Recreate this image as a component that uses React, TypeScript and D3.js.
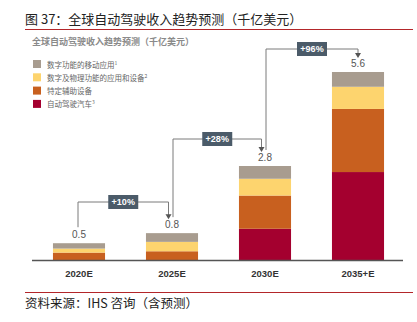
import React from "react";
import * as d3 from "d3";

const categories = ["2020E", "2025E", "2030E", "2035+E"];
const totals = [0.5, 0.8, 2.8, 5.6];
const totalLabels = ["0.5", "0.8", "2.8", "5.6"];
const redVals = [0, 0, 0.93, 2.62];
const orangeVals = [0.22, 0.26, 0.99, 1.88];
const yellowVals = [0.12, 0.28, 0.5, 0.66];
const grayVals = [0.16, 0.26, 0.38, 0.44];
const growthLabels = ["+10%", "+28%", "+96%"];
const legendLabels = ["数字功能的移动应用", "数字及物理功能的应用和设备", "特定辅助设备", "自动驾驶汽车"];
const legendSup = ["1", "2", "", "3"];

const keys = ["red", "orange", "yellow", "gray"];
const colors: Record<string, string> = {
  red: "#a4002f",
  orange: "#c8601f",
  yellow: "#fdd46e",
  gray: "#a89c8f",
};
const legendKeys = ["gray", "yellow", "orange", "red"];

const CJK = "'Noto Sans CJK SC', 'Noto Sans', sans-serif";
const LAT = "'Liberation Sans', Arial, sans-serif";

export default function App() {
  const W = 417, H = 322;
  const x = d3.scaleBand<string>().domain(categories).range([32.5, 404.5]).paddingInner(0.44).paddingOuter(0.22);
  const y = d3.scaleLinear().domain([0, 5.6]).range([260, 72]);
  const rows = categories.map((c, i) => ({
    cat: c,
    red: redVals[i],
    orange: orangeVals[i],
    yellow: yellowVals[i],
    gray: grayVals[i],
  }));
  const series = d3.stack<any>().keys(keys)(rows);
  const bw = x.bandwidth();
  const cx = (i: number) => (x(categories[i]) as number) + bw / 2;

  // growth connectors
  const connY = [202, 139, 49];
  const connectors = growthLabels.map((g, i) => {
    const x0 = cx(i) + (i === 0 ? -1 : 1);
    const x1 = cx(i + 1) - (i < 2 ? 3.5 : 0);
    const y0 = y(totals[i]) - 16;
    const yTip = y(totals[i + 1]) - 14;
    const yl = connY[i];
    const mid = (x0 + x1) / 2;
    return { g, x0, x1, y0, yTip, yl, mid };
  });

  return (
    <svg width={W} height={H} style={{ position: "absolute", left: 0, top: 0, background: "#fff" }}>
      <text x={25} y={24} fontFamily={CJK} fontSize={13} fill="#222">图 37：全球自动驾驶收入趋势预测（千亿美元）</text>
      <line x1={25} x2={413} y1={29.5} y2={29.5} stroke="#b3262a" strokeWidth={1.2} />
      <text x={32} y={45} fontFamily={CJK} fontSize={9} fontWeight={700} fill="#8a8a8a">全球自动驾驶收入趋势预测（千亿美元）</text>

      {legendKeys.map((k, i) => (
        <g key={k} transform={`translate(33,${60 + i * 13.3})`}>
          <rect x={0} y={0} width={8} height={8} fill={colors[k]} />
          <text x={14} y={7.5} fontFamily={CJK} fontSize={7.5} fill="#666">
            {legendLabels[i]}
            {legendSup[i] && <tspan dy={-3} fontSize={5}>{legendSup[i]}</tspan>}
          </text>
        </g>
      ))}

      {series.map((s) => (
        <g key={s.key} fill={colors[s.key]}>
          {s.map((d, i) => (
            <rect key={i} x={x(categories[i])} y={y(d[1])} width={bw} height={Math.max(0, y(d[0]) - y(d[1]))} />
          ))}
        </g>
      ))}

      <line x1={32} x2={403} y1={260.5} y2={260.5} stroke="#555" strokeWidth={1.5} />

      {categories.map((c, i) => (
        <text key={c} x={cx(i)} y={277} textAnchor="middle" fontFamily={LAT} fontWeight={700} fontSize={9.5} fill="#333">{c}</text>
      ))}
      {totalLabels.map((t, i) => (
        <text key={t} x={cx(i)} y={y(totals[i]) - 5} textAnchor="middle" fontFamily={LAT} fontSize={10} fill="#555">{t}</text>
      ))}

      {connectors.map((c, i) => (
        <g key={i}>
          <path d={`M${c.x0},${c.y0}V${c.yl}H${c.x1}V${c.yTip - 4}`} fill="none" stroke="#7a7a7a" strokeWidth={1} />
          <path d={`M${c.x1 - 3},${c.yTip - 5}L${c.x1 + 3},${c.yTip - 5}L${c.x1},${c.yTip}Z`} fill="#555" />
          <rect x={c.mid - 15} y={c.yl - 7} width={30} height={14} fill="#4b5b69" />
          <text x={c.mid} y={c.yl + 3.2} textAnchor="middle" fontFamily={LAT} fontWeight={700} fontSize={9} fill="#fff">{c.g}</text>
        </g>
      ))}

      <line x1={25} x2={413} y1={292.5} y2={292.5} stroke="#b3262a" strokeWidth={1.2} />
      <text x={25} y={308} fontFamily={CJK} fontSize={12.5} fill="#222">资料来源：IHS 咨询（含预测）</text>
    </svg>
  );
}
